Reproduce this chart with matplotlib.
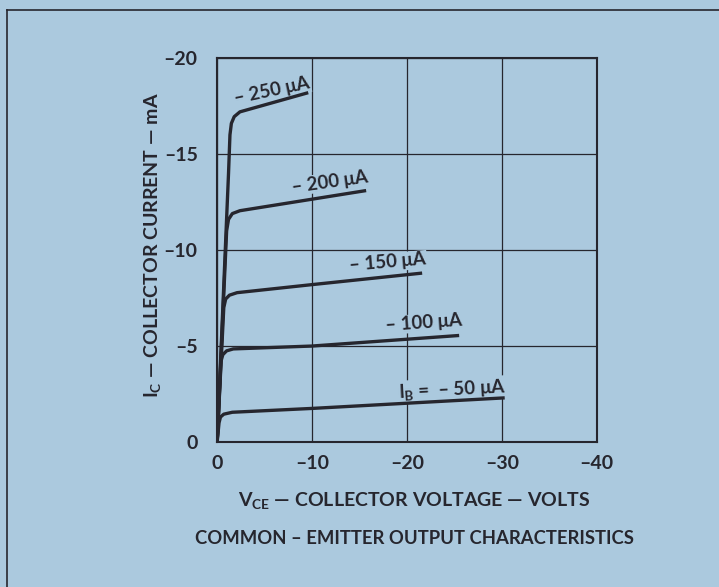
"""
Common-emitter output characteristics of a PNP transistor:
collector current against collector voltage for five base currents.
"""
import matplotlib
matplotlib.use("Agg")
import matplotlib.pyplot as plt
from matplotlib.lines import Line2D

# base current labels and the curve (volts, mA)
base_labels = ["$I_B$ =  \u2013 50 \u03bcA", "\u2013 100 \u03bcA", "\u2013 150 \u03bcA",
               "\u2013 200 \u03bcA", "\u2013 250 \u03bcA"]
vce_50 = [0, -0.2, -0.35, -0.7, -1.6, -10, -30.3]
ic_50 = [0, -1.0, -1.3, -1.45, -1.55, -1.75, -2.3]
vce_100 = [0, -0.4, -0.6, -1.0, -1.7, -10, -25.5]
ic_100 = [0, -4.2, -4.55, -4.75, -4.85, -5.0, -5.55]
vce_150 = [0, -0.7, -0.9, -1.3, -2.1, -10, -21.6]
ic_150 = [0, -7.0, -7.45, -7.65, -7.78, -8.2, -8.8]
vce_200 = [0, -1.0, -1.2, -1.6, -2.4, -10, -15.7]
ic_200 = [0, -11.0, -11.6, -11.9, -12.05, -12.65, -13.1]
vce_250 = [0, -1.2, -1.35, -1.5, -1.8, -2.4, -9.6]
ic_250 = [0, -14.0, -16.0, -16.6, -16.95, -17.2, -18.2]

x_ticks = [0, -10, -20, -30, -40]
y_ticks = [0, -5, -10, -15, -20]

BG = "#abc9de"
INK = "#26262e"

plt.rcParams["font.family"] = ["Lato", "DejaVu Sans"]
plt.rcParams["font.weight"] = "bold"
plt.rcParams["mathtext.fontset"] = "custom"
plt.rcParams["mathtext.rm"] = "Lato:bold"
plt.rcParams["mathtext.it"] = "Lato:bold"
plt.rcParams["mathtext.default"] = "rm"


def dash(t):
    # the scan prints negative numbers with a long dash
    return str(t).replace("-", "\u2013")


def main():
    fig = plt.figure(figsize=(7.19, 5.87), dpi=100, facecolor=BG)
    ax = fig.add_axes([0.302, 0.247, 0.528, 0.654], facecolor=BG)
    ax.set_axisbelow(True)

    # scan frame
    fig.add_artist(Line2D([0.0097, 0.0097], [0.0, 0.983], color=INK, lw=1.2))
    fig.add_artist(Line2D([0.0097, 1.0], [0.983, 0.983], color=INK, lw=1.2))

    curves = [(vce_50, ic_50), (vce_100, ic_100), (vce_150, ic_150),
              (vce_200, ic_200), (vce_250, ic_250)]
    for v, i in curves:
        ax.plot(v, i, color=INK, lw=2.4, solid_capstyle="butt", zorder=3)

    # label positions and slant, one per curve
    label_pos = [(-24.8, -2.75, 3), (-21.8, -6.2, 4), (-18.0, -9.35, 5),
                 (-11.9, -13.55, 8), (-5.8, -18.3, 12)]
    for text, (x, y, rot) in zip(base_labels, label_pos):
        ax.text(x, y, text, ha="center", va="center", rotation=rot,
                fontsize=13.5, fontweight="bold", color=INK, zorder=2,
                bbox=dict(facecolor=BG, edgecolor="none", pad=0.5))

    ax.set_xlim(0, -40)
    ax.set_ylim(0, -20)
    ax.set_xticks(x_ticks)
    ax.set_yticks(y_ticks)
    ax.set_xticklabels([dash(t) for t in x_ticks], fontweight="bold")
    ax.set_yticklabels([dash(t) for t in y_ticks], fontweight="bold")
    ax.tick_params(length=0, labelsize=14, colors=INK)
    ax.tick_params(axis="x", pad=9)
    ax.tick_params(axis="y", pad=14)
    ax.grid(True, color=INK, lw=0.9)
    for s in ax.spines.values():
        s.set_color(INK)
        s.set_linewidth(1.5)

    ax.set_ylabel("I$_C$ \u2014 COLLECTOR CURRENT \u2014 mA", fontsize=14,
                  fontweight="bold", color=INK)
    ax.yaxis.set_label_coords(-0.142, 0.513)
    ax.set_xlabel("V$_{CE}$ \u2014 COLLECTOR VOLTAGE \u2014 VOLTS",
                  fontsize=14, fontweight="bold", color=INK)
    ax.xaxis.set_label_coords(0.52, -0.125)

    fig.text(0.577, 0.082, "COMMON \u2013 EMITTER OUTPUT CHARACTERISTICS",
             ha="center", va="center", fontsize=13.3, fontweight="bold",
             color=INK)

    fig.savefig("out.png", dpi=100, facecolor=BG)


if __name__ == "__main__":
    main()
